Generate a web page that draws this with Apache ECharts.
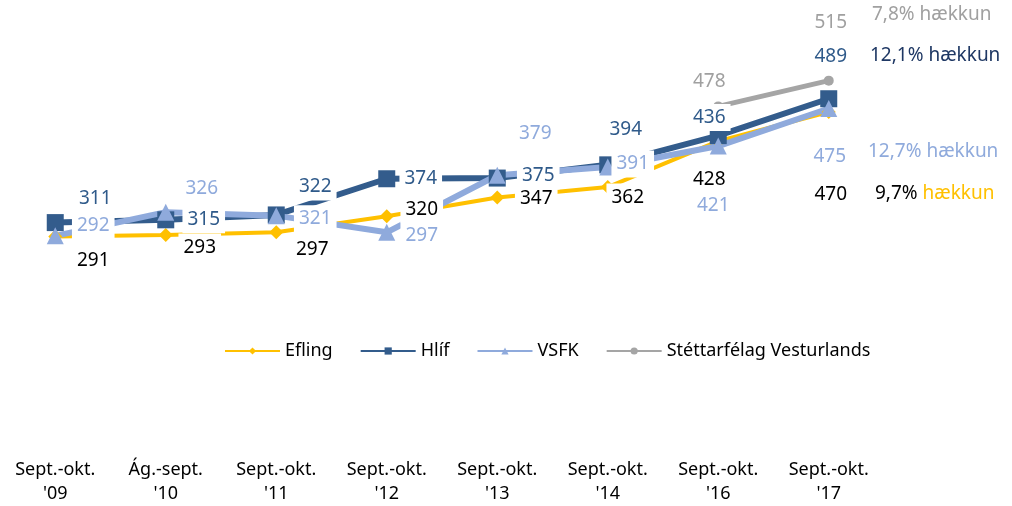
<!DOCTYPE html>
<html>
<head>
<meta charset="utf-8">
<script src="https://cdn.jsdelivr.net/npm/echarts@6/dist/echarts.min.js"></script>
<style>html,body{margin:0;padding:0;background:#fff}#c{width:1012px;height:506px}</style>
</head>
<body>
<div id="c"></div>
<script>
const categories = ["Sept.-okt.\n'09", "Ág.-sept.\n'10", "Sept.-okt.\n'11", "Sept.-okt.\n'12", "Sept.-okt.\n'13", "Sept.-okt.\n'14", "Sept.-okt.\n'16", "Sept.-okt.\n'17"];
const efling = [291, 293, 297, 320, 347, 362, 428, 470];
const hlif = [311, 315, 322, 374, 375, 394, 436, 489];
const vsfk = [292, 326, 321, 297, 379, 391, 421, 475];
const vesturlands = [null, null, null, null, null, null, 478, 515];
const seriesNames = ["Efling", "Hlíf", "VSFK", "Stéttarfélag Vesturlands"];
const increases = ["9,7%", "12,1%", "12,7%", "7,8%"];
const increaseWord = "hækkun";

const FONT = "'Noto Sans', 'Open Sans', sans-serif";

// label offsets (style only)
const offE = [[38,24],[34,12],[36,17],[35,-7],[39,1],[20,10],[-9,38],[2,83]];
const offH = [[40,-24],[38,0],[39,-28],[34,0],[41,-2],[18,-35],[-9,-18],[2,-42]];
const offV = [[38,-10],[36,-24],[39,3],[35,3],[38,-42],[25,-3],[-5,60],[1,48]];
const offG = [null,null,null,null,null,null,[-9,-25],[2,-58]];

function build(vals, offs, color) {
  return vals.map((v, i) => v == null ? null : ({
    value: v,
    label: { offset: offs[i], color: color }
  }));
}

const baseLabel = {
  show: true, position: 'inside', fontFamily: FONT, fontSize: 19,
  backgroundColor: '#fff', padding: [4, 5]
};

const option = {
  animation: false,
  grid: { left: 0, right: 128, top: 21.5, bottom: 65 },
  legend: {
    data: seriesNames, top: 337, left: 219,
    itemWidth: 55, itemHeight: 9, itemGap: 27,
    textStyle: { fontFamily: FONT, fontSize: 18, color: '#000' }
  },
  xAxis: {
    type: 'category', data: categories, boundaryGap: true,
    axisLine: { show: false }, axisTick: { show: false },
    axisLabel: { fontFamily: FONT, fontSize: 18, color: '#000', lineHeight: 24, margin: 19, interval: 0 }
  },
  yAxis: { type: 'value', min: 0, max: 600, show: false, splitLine: { show: false } },
  series: [
    { name: seriesNames[0], type: 'line', data: build(efling, offE, '#000'),
      color: '#FFC000', lineStyle: { width: 4 }, symbol: 'diamond', symbolSize: 14,
      label: Object.assign({}, baseLabel) },
    { name: seriesNames[1], type: 'line', data: build(hlif, offH, '#2F5A8A'),
      color: '#335C8C', lineStyle: { width: 6 }, symbol: 'rect', symbolSize: 17,
      label: Object.assign({}, baseLabel) },
    { name: seriesNames[2], type: 'line', data: build(vsfk, offV, '#8FAADC'),
      color: '#8FAADC', lineStyle: { width: 6 }, symbol: 'triangle', symbolSize: 17,
      label: Object.assign({}, baseLabel) },
    { name: seriesNames[3], type: 'line', data: build(vesturlands, offG, '#A0A0A0'),
      color: '#A5A5A5', lineStyle: { width: 5 }, symbol: 'circle', symbolSize: 10,
      label: Object.assign({}, baseLabel) }
  ],
  graphic: [
    { type: 'text', x: 872, y: 15, style: { text: increases[3] + ' ' + increaseWord, fill: '#A0A0A0', font: '19px ' + FONT, verticalAlign: 'middle', align: 'left' } },
    { type: 'text', x: 870, y: 56, style: { text: increases[1] + ' ' + increaseWord, fill: '#1F3864', font: '19px ' + FONT, verticalAlign: 'middle', align: 'left' } },
    { type: 'text', x: 868, y: 152, style: { text: increases[2] + ' ' + increaseWord, fill: '#8FAADC', font: '19px ' + FONT, verticalAlign: 'middle', align: 'left' } },
    { type: 'text', x: 875, y: 194, style: {
        text: '{a|' + increases[0] + '} {b|' + increaseWord + '}',
        font: '19px ' + FONT, verticalAlign: 'middle', align: 'left',
        rich: { a: { fill: '#000', fontFamily: FONT, fontSize: 19 }, b: { fill: '#FFC000', fontFamily: FONT, fontSize: 19 } }
      } }
  ]
};

const chart = echarts.init(document.getElementById('c'), null, { renderer: 'canvas' });
chart.setOption(option);
</script>
</body>
</html>
